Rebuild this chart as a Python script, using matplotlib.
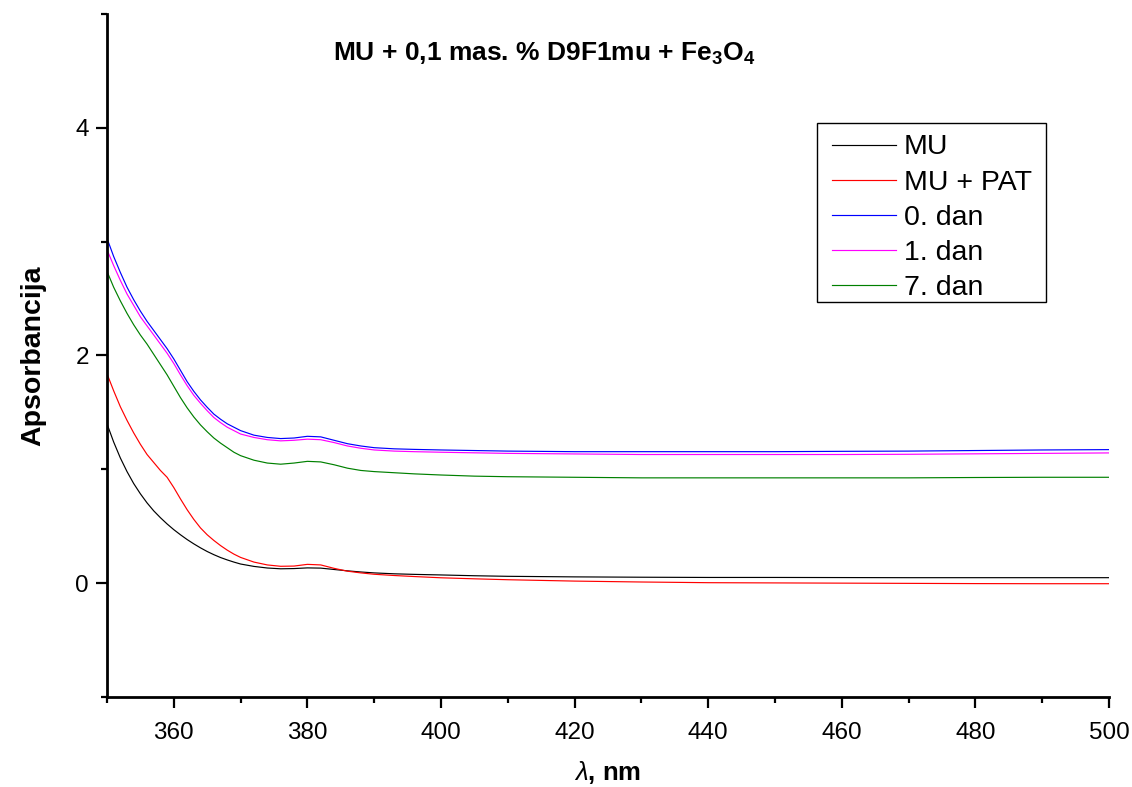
import matplotlib
matplotlib.use("Agg")
import matplotlib.pyplot as plt
from matplotlib.patches import Rectangle
from matplotlib.ticker import MultipleLocator

plt.rcParams["font.family"] = ["Liberation Sans", "DejaVu Sans"]
plt.rcParams["mathtext.fontset"] = "custom"
plt.rcParams["mathtext.rm"] = "Liberation Sans:bold"
plt.rcParams["mathtext.bf"] = "Liberation Sans:bold"
plt.rcParams["mathtext.it"] = "Liberation Sans:italic"

# Wavelength grid (nm)
wavelength = [350, 351, 352, 353, 354, 355, 356, 357, 358, 359, 360, 361, 362, 363,
              364, 365, 366, 367, 368, 369, 370, 372, 374, 376, 378, 380, 382, 384,
              386, 388, 390, 393, 396, 400, 405, 410, 420, 430, 440, 450, 460, 470,
              480, 490, 500]

# Absorbance spectra
mu = [1.40, 1.24, 1.10, 0.98, 0.875, 0.785, 0.705, 0.635, 0.575, 0.52, 0.47, 0.425,
      0.383, 0.345, 0.31, 0.278, 0.25, 0.225, 0.204, 0.185, 0.168, 0.147, 0.133, 0.126,
      0.128, 0.134, 0.132, 0.12, 0.108, 0.098, 0.09, 0.082, 0.077, 0.072, 0.065, 0.06,
      0.055, 0.052, 0.05, 0.05, 0.049, 0.048, 0.048, 0.048, 0.048]

mu_pat = [1.84, 1.69, 1.55, 1.43, 1.32, 1.22, 1.13, 1.06, 0.99, 0.93, 0.84, 0.74, 0.645,
          0.56, 0.485, 0.425, 0.375, 0.33, 0.29, 0.255, 0.226, 0.185, 0.16, 0.148, 0.15,
          0.165, 0.16, 0.13, 0.105, 0.09, 0.078, 0.067, 0.058, 0.047, 0.038, 0.03,
          0.018, 0.01, 0.004, 0.002, 0.0, -0.002, -0.004, -0.005, -0.005]

day0 = [3.03, 2.87, 2.73, 2.60, 2.49, 2.39, 2.30, 2.22, 2.14, 2.06, 1.97, 1.87, 1.77,
        1.685, 1.61, 1.545, 1.485, 1.44, 1.40, 1.37, 1.34, 1.30, 1.28, 1.27, 1.275, 1.29,
        1.285, 1.255, 1.225, 1.205, 1.19, 1.18, 1.175, 1.17, 1.165, 1.16, 1.155, 1.155,
        1.155, 1.155, 1.158, 1.16, 1.165, 1.17, 1.173]

day1 = [2.93, 2.79, 2.66, 2.54, 2.44, 2.34, 2.26, 2.18, 2.10, 2.02, 1.93, 1.83, 1.735,
        1.65, 1.58, 1.515, 1.455, 1.41, 1.37, 1.34, 1.31, 1.28, 1.26, 1.25, 1.255, 1.265,
        1.26, 1.235, 1.205, 1.185, 1.17, 1.16, 1.155, 1.15, 1.145, 1.14, 1.135, 1.13,
        1.13, 1.13, 1.13, 1.132, 1.136, 1.14, 1.144]

day7 = [2.74, 2.60, 2.48, 2.37, 2.27, 2.18, 2.10, 2.01, 1.92, 1.83, 1.73, 1.63, 1.54,
        1.46, 1.39, 1.33, 1.275, 1.23, 1.19, 1.15, 1.12, 1.08, 1.055, 1.045, 1.055, 1.07,
        1.065, 1.04, 1.01, 0.99, 0.98, 0.97, 0.96, 0.95, 0.94, 0.935, 0.93, 0.925,
        0.925, 0.925, 0.925, 0.925, 0.928, 0.93, 0.93]

series = [
    ("MU", mu, "black"),
    ("MU + PAT", mu_pat, "red"),
    ("0. dan", day0, "blue"),
    ("1. dan", day1, "magenta"),
    ("7. dan", day7, "green"),
]

fig = plt.figure(figsize=(11.32, 7.87), dpi=100)
ax = fig.add_axes([0.0945, 0.1144, 0.8852, 0.8678])

for label, values, color in series:
    ax.plot(wavelength, values, color=color, lw=0.85, label=label)

ax.set_xlim(350, 500)
ax.set_ylim(-1, 5)
ax.xaxis.set_major_locator(MultipleLocator(20))
ax.xaxis.set_minor_locator(MultipleLocator(10))
ax.yaxis.set_major_locator(MultipleLocator(2))
ax.yaxis.set_minor_locator(MultipleLocator(1))
ax.set_xticks([360, 380, 400, 420, 440, 460, 480, 500])

for side in ("top", "right"):
    ax.spines[side].set_visible(False)
for side in ("left", "bottom"):
    ax.spines[side].set_linewidth(2.0)

ax.tick_params(which="major", direction="out", length=8, width=1.6, labelsize=17.5)
ax.tick_params(which="minor", direction="out", length=4.3, width=1.6)
ax.tick_params(axis="x", which="major", pad=10)
ax.tick_params(axis="y", which="major", pad=5)

ax.set_xlabel(r"$\mathit{\lambda}$, nm", fontsize=18.5, fontweight="bold", labelpad=11)
ax.set_ylabel("Apsorbancija", fontsize=20.5, fontweight="bold", labelpad=21)

fig.text(0.481, 0.932, r"MU + 0,1 mas. % D9F1mu + Fe$_3$O$_4$",
         fontsize=19, fontweight="bold", ha="center", va="center")

# Legend entries without their own frame; the box is drawn separately
leg = ax.legend(loc="upper left", bbox_to_anchor=(0.7234, 0.8236), fontsize=20.5,
                frameon=False, handlelength=2.25, handletextpad=0.28,
                labelspacing=0.32, borderpad=0.0, borderaxespad=0.0)
ax.add_patch(Rectangle((0.7084, 0.5783), 0.2287, 0.2621, transform=ax.transAxes,
                       fill=False, edgecolor="black", lw=1.0, zorder=5))

fig.savefig("out.png", dpi=100)
